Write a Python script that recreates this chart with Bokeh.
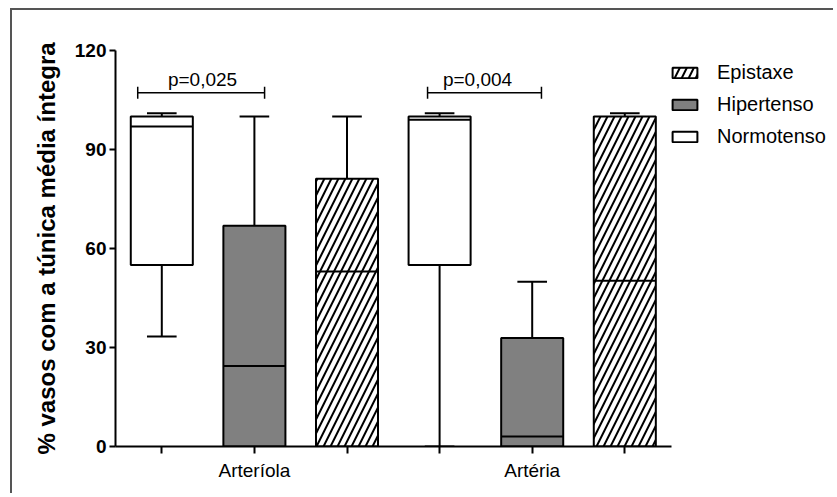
from bokeh.plotting import figure
from bokeh.models import (ColumnDataSource, Range1d, FixedTicker, Legend, LegendItem)
from bokeh.embed import file_html
from bokeh.resources import INLINE

# ---- data ----
categories = ["Arteríola", "Artéria"]
groups = ["Normotenso", "Hipertenso", "Epistaxe"]
# per category, per group
mins    = [[33.3, 0.0, 0.0], [0.0, 0.0, 0.0]]
q1s     = [[55.0, 0.0, 0.0], [55.0, 0.0, 0.0]]
medians = [[97.0, 24.4, 53.0], [99.0, 3.0, 50.2]]
q3s     = [[100.0, 66.9, 81.1], [100.0, 32.9, 100.0]]
maxs    = [[101.0, 100.0, 100.0], [101.0, 49.9, 101.0]]

p_labels = ["p=0,025", "p=0,004"]
bracket_x0 = [0.74, 3.87]
bracket_x1 = [2.11, 5.10]
bracket_y = [107.2, 107.2]
p_label_x = [1.44, 4.41]

y_ticks = [0, 30, 60, 90, 120]

FONT = "Liberation Sans"
BOX_W = 0.67
CAP_W = 0.32

fills = {"Normotenso": "white", "Hipertenso": "#808080", "Epistaxe": "white"}
hatches = {"Normotenso": " ", "Hipertenso": " ", "Epistaxe": "/"}

# layout (canvas pixels)
W, H = 823, 485
LEFT, TOP, RIGHT_PAD, BOTTOM = 103, 40, 5, 49
UNIT_PX = 92.6
x_start = 0.5
x_end = x_start + (W - LEFT - RIGHT_PAD) / UNIT_PX

p = figure(width=W, height=H, output_backend="svg", toolbar_location=None,
           x_range=Range1d(x_start, x_end), y_range=Range1d(0, 120),
           min_border_left=LEFT, min_border_right=RIGHT_PAD, min_border_top=TOP,
           min_border_bottom=BOTTOM)
p.styles = {"border-top": "2px solid #555555", "border-left": "2px solid #555555",
            "margin-left": "10px", "margin-top": "8px"}
p.outline_line_color = None
p.grid.visible = False
p.background_fill_color = "white"
p.border_fill_color = "white"

legend_renderers = {}
for ci, cat in enumerate(categories):
    for gi, grp in enumerate(groups):
        x = ci * 3 + gi + 1
        src = ColumnDataSource(dict(x=[x], lo=[mins[ci][gi]], q1=[q1s[ci][gi]],
                                    med=[medians[ci][gi]], q3=[q3s[ci][gi]],
                                    hi=[maxs[ci][gi]],
                                    xl=[x - BOX_W / 2], xr=[x + BOX_W / 2],
                                    cl=[x - CAP_W / 2], cr=[x + CAP_W / 2]))
        # whiskers
        p.segment(x0="x", y0="q3", x1="x", y1="hi", source=src, line_color="black", line_width=2)
        p.segment(x0="x", y0="lo", x1="x", y1="q1", source=src, line_color="black", line_width=2)
        p.segment(x0="cl", y0="hi", x1="cr", y1="hi", source=src, line_color="black", line_width=2)
        p.segment(x0="cl", y0="lo", x1="cr", y1="lo", source=src, line_color="black", line_width=2)
        # box
        r = p.vbar(x="x", width=BOX_W, bottom="q1", top="q3", source=src,
                   fill_color=fills[grp], line_color="black", line_width=2,
                   hatch_pattern=hatches[grp], hatch_color="black",
                   hatch_scale=14, hatch_weight=2)
        legend_renderers.setdefault(grp, r)
        # median
        p.segment(x0="xl", y0="med", x1="xr", y1="med", source=src, line_color="black", line_width=2)

# significance brackets
bsrc = ColumnDataSource(dict(x0=bracket_x0, x1=bracket_x1, y=bracket_y,
                             ylo=[v - 1.8 for v in bracket_y], yhi=[v + 1.8 for v in bracket_y],
                             tx=p_label_x, ty=[v + 4.0 for v in bracket_y], txt=p_labels))
p.segment(x0="x0", y0="y", x1="x1", y1="y", source=bsrc, line_color="black", line_width=1.5)
p.segment(x0="x0", y0="ylo", x1="x0", y1="yhi", source=bsrc, line_color="black", line_width=1.5)
p.segment(x0="x1", y0="ylo", x1="x1", y1="yhi", source=bsrc, line_color="black", line_width=1.5)
p.text(x="tx", y="ty", text="txt", source=bsrc, text_align="center",
       text_baseline="alphabetic", text_font_size="19px", text_color="black",
       text_font={"value": FONT})

# axes
p.xaxis.ticker = FixedTicker(ticks=[1, 2, 3, 4, 5, 6])
p.xaxis.bounds = (0.5, 6.5)
p.xaxis.major_label_overrides = {1: "", 2: categories[0], 3: "", 4: "", 5: categories[1], 6: ""}
p.yaxis.ticker = FixedTicker(ticks=y_ticks)
for ax in (p.xaxis, p.yaxis):
    ax.axis_line_width = 2
    ax.axis_line_color = "black"
    ax.major_tick_line_width = 2
    ax.major_tick_line_color = "black"
    ax.major_tick_in = 0
    ax.minor_tick_line_color = None
    ax.major_label_text_color = "black"
    ax.major_label_text_font = FONT
p.xaxis.major_tick_out = 7
p.xaxis.major_label_standoff = 6
p.xaxis.major_label_text_font_size = "19px"
p.yaxis.major_tick_out = 6
p.yaxis.major_label_standoff = 3
p.yaxis.major_label_text_font_size = "19px"
p.yaxis.major_label_text_font_style = "bold"
p.yaxis.axis_label = "% vasos com a túnica média íntegra"
p.yaxis.axis_label_text_font = FONT
p.yaxis.axis_label_text_font_size = "24px"
p.yaxis.axis_label_text_font_style = "bold"
p.yaxis.axis_label_text_color = "black"
p.yaxis.axis_label_standoff = 12

legend = Legend(items=[LegendItem(label=g, renderers=[legend_renderers[g]]) for g in ["Epistaxe", "Hipertenso", "Normotenso"]],
                location=(554, 298), padding=0, margin=0, border_line_color=None,
                background_fill_alpha=0, glyph_width=31, glyph_height=13,
                label_height=20, spacing=9, label_standoff=17,
                label_text_font=FONT, label_text_font_size="20px", label_text_color="black")
p.add_layout(legend, "center")

open("out.html", "w").write(file_html(p, INLINE))
